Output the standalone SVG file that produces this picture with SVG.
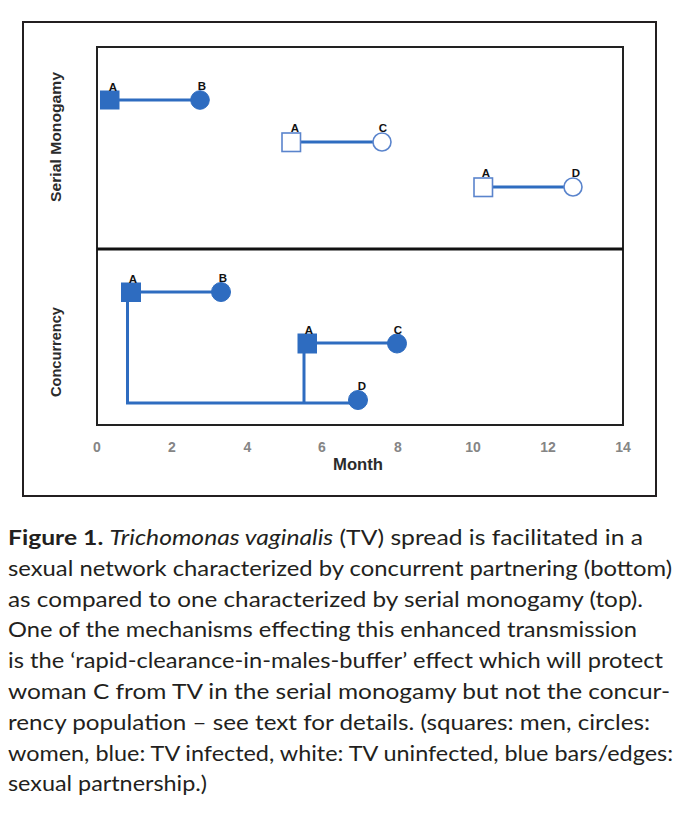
<svg xmlns="http://www.w3.org/2000/svg" width="686" height="833" viewBox="0 0 686 833">
<style>
.edge{stroke:#2e6cc0;stroke-width:3;fill:none}
.inf{fill:#2e6cc0;stroke:#2e6cc0;stroke-width:1}
.un{fill:#ffffff;stroke:#5a84cc;stroke-width:1.6}
.lbl{font-family:"Liberation Sans",Arial,sans-serif;font-weight:bold;font-size:11.5px;fill:#111;text-anchor:middle}
.tick{font-family:"Liberation Sans",Arial,sans-serif;font-weight:bold;font-size:14px;fill:#858585;text-anchor:middle}
.axis{font-family:"Liberation Sans",Arial,sans-serif;font-weight:bold;fill:#2b2b2b}
.cap{font-family:Lato,"Open Sans",sans-serif;font-size:21px;fill:#231f20}
</style>
<rect x="0" y="0" width="686" height="833" fill="#ffffff"/>
<g id="frame">
<rect x="23" y="22" width="633" height="474" fill="none" stroke="#231f20" stroke-width="2"/>
<rect x="97" y="47" width="526" height="378" fill="none" stroke="#222" stroke-width="2"/>
<line x1="97" y1="249" x2="623" y2="249" stroke="#111" stroke-width="3"/>
</g>
<g id="axis-labels">
<text class="axis" font-size="15.5" transform="translate(61,137) rotate(-90)" text-anchor="middle" textLength="130" lengthAdjust="spacingAndGlyphs">Serial Monogamy</text>
<text class="axis" font-size="15.5" transform="translate(61,352) rotate(-90)" text-anchor="middle" textLength="90" lengthAdjust="spacingAndGlyphs">Concurrency</text>
<text class="tick" x="97" y="452">0</text>
<text class="tick" x="172" y="452">2</text>
<text class="tick" x="247.5" y="452">4</text>
<text class="tick" x="322" y="452">6</text>
<text class="tick" x="398" y="452">8</text>
<text class="tick" x="473" y="452">10</text>
<text class="tick" x="548" y="452">12</text>
<text class="tick" x="623" y="452">14</text>
<text class="axis" font-size="17" x="358" y="470" text-anchor="middle" textLength="50" lengthAdjust="spacingAndGlyphs">Month</text>
</g>
<g id="connectors">
<line class="edge" x1="110" y1="100" x2="200" y2="100"/>
<line class="edge" x1="300" y1="142" x2="373" y2="142"/>
<line class="edge" x1="492" y1="187" x2="564" y2="187"/>
<line class="edge" x1="131" y1="292" x2="221" y2="292"/>
<polyline class="edge" points="127.5,292 127.5,403 358,403"/>
<line class="edge" x1="304" y1="343" x2="304" y2="403"/>
<line class="edge" x1="307" y1="343" x2="397" y2="343"/>
</g>
<g id="sm-A1"><rect class="inf" x="100.5" y="91" width="18.5" height="18"/><text class="lbl" x="113" y="91">A</text></g>
<g id="sm-B"><circle class="inf" cx="200" cy="100" r="9.3"/><text class="lbl" x="202" y="90">B</text></g>
<g id="sm-A2"><rect class="un" x="282" y="133" width="18.5" height="18.5"/><text class="lbl" x="295" y="132">A</text></g>
<g id="sm-C"><circle class="un" cx="382" cy="142" r="9"/><text class="lbl" x="383" y="132">C</text></g>
<g id="sm-A3"><rect class="un" x="474" y="178" width="18.5" height="18.5"/><text class="lbl" x="486" y="177">A</text></g>
<g id="sm-D"><circle class="un" cx="573" cy="187" r="9"/><text class="lbl" x="576" y="177">D</text></g>
<g id="cc-A1"><rect class="inf" x="121.5" y="283" width="19" height="18.5"/><text class="lbl" x="133" y="283">A</text></g>
<g id="cc-B"><circle class="inf" cx="221" cy="292" r="9.5"/><text class="lbl" x="223" y="282">B</text></g>
<g id="cc-A2"><rect class="inf" x="298" y="334" width="18.5" height="19"/><text class="lbl" x="309" y="334">A</text></g>
<g id="cc-C"><circle class="inf" cx="397" cy="343.5" r="9.5"/><text class="lbl" x="398" y="334">C</text></g>
<g id="cc-D"><circle class="inf" cx="358" cy="400" r="9.5"/><text class="lbl" x="362" y="390">D</text></g>
<g id="caption">
<text class="cap" x="8" y="545" textLength="635" lengthAdjust="spacingAndGlyphs"><tspan font-weight="bold">Figure 1.</tspan> <tspan font-style="italic">Trichomonas vaginalis</tspan> (TV) spread is facilitated in a</text>
<text class="cap" x="8" y="576" textLength="664" lengthAdjust="spacingAndGlyphs">sexual network characterized by concurrent partnering (bottom)</text>
<text class="cap" x="8" y="607" textLength="635" lengthAdjust="spacingAndGlyphs">as compared to one characterized by serial monogamy (top).</text>
<text class="cap" x="8" y="637" textLength="629" lengthAdjust="spacingAndGlyphs">One of the mechanisms effecting this enhanced transmission</text>
<text class="cap" x="8" y="668" textLength="655" lengthAdjust="spacingAndGlyphs">is the ‘rapid-clearance-in-males-buffer’ effect which will protect</text>
<text class="cap" x="8" y="699" textLength="662" lengthAdjust="spacingAndGlyphs">woman C from TV in the serial monogamy but not the concur-</text>
<text class="cap" x="8" y="730" textLength="642" lengthAdjust="spacingAndGlyphs">rency population – see text for details. (squares: men, circles:</text>
<text class="cap" x="8" y="761" textLength="665" lengthAdjust="spacingAndGlyphs">women, blue: TV infected, white: TV uninfected, blue bars/edges:</text>
<text class="cap" x="8" y="791" textLength="199" lengthAdjust="spacingAndGlyphs">sexual partnership.)</text>
</g>
</svg>
